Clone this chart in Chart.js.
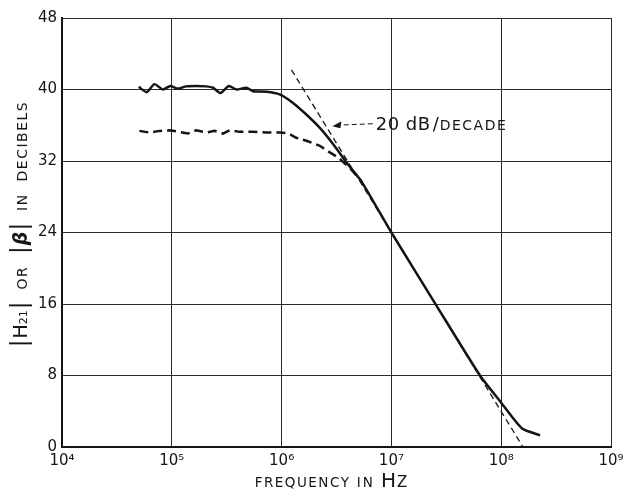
<!DOCTYPE html>
<html>
<head>
<meta charset="utf-8">
<script src="https://cdn.jsdelivr.net/npm/chart.js@4.4.1/dist/chart.umd.min.js"></script>
<style>
  html, body { margin: 0; padding: 0; background: #fff; }
  #wrap { width: 625px; height: 491px; }
</style>
</head>
<body>
<div id="wrap"><canvas id="chart" width="625" height="491"></canvas></div>
<script>
// ---------------- data ----------------
// |H21| measured (solid line)
const h21Freq = [5.0e4, 5.9e4, 6.95e4, 8.3e4, 9.7e4, 1.13e5, 1.35e5, 1.67e5, 2.06e5, 2.37e5,
                 2.78e5, 3.31e5, 3.87e5, 4.78e5, 5.48e5, 7.26e5, 9.6e5, 1.27e6, 1.68e6, 2.23e6,
                 2.94e6, 3.98e6, 5.35e6, 1.0e7, 2.58e7, 6.41e7, 9.8e7, 1.54e8, 2.26e8];
const h21Db   = [40.3, 39.7, 40.6, 40.0, 40.4, 40.1, 40.35, 40.4, 40.35, 40.2,
                 39.6, 40.4, 40.0, 40.2, 39.8, 39.75, 39.45, 38.5, 37.2, 35.7,
                 33.9, 31.7, 29.7, 24.0, 15.8, 8.0, 5.1, 2.1, 1.3];

// |beta| measured (heavy dashed line)
const betaFreq = [5.07e4, 6.27e4, 7.73e4, 9.53e4, 1.17e5, 1.4e5, 1.67e5, 2.06e5, 2.45e5, 2.92e5,
                  3.36e5, 4.15e5, 5.48e5, 7.26e5, 9.6e5, 1.14e6, 1.36e6, 1.68e6, 2.23e6, 2.75e6,
                  3.27e6, 4.2e6, 5.35e6];
const betaDb   = [35.37, 35.18, 35.37, 35.44, 35.26, 35.07, 35.44, 35.18, 35.37, 35.07,
                  35.44, 35.26, 35.26, 35.18, 35.18, 35.1, 34.6, 34.26, 33.7, 32.96,
                  32.4, 31.2, 29.7];

// 20 dB/decade asymptote (thin dashed line)
const asymFreq = [1.23e6, 1.58e8];
const asymDb   = [42.2, 0];

// axis ticks
const xTicks = [1e4, 1e5, 1e6, 1e7, 1e8, 1e9];
const xTickExp = ['⁴', '⁵', '⁶', '⁷', '⁸', '⁹'];
const yTicks = [0, 8, 16, 24, 32, 40, 48];

// ---------------- helpers ----------------
function pts(xs, ys) {
  return xs.map((x, i) => ({ x: x, y: ys[i] }));
}

const INK = '#151515';
const FONT = '"DejaVu Sans", sans-serif';

// draws a row of text pieces with different fonts, starting at x
function drawRuns(ctx, runs, x, y) {
  runs.forEach(r => {
    ctx.font = r.font;
    ctx.letterSpacing = (r.ls || 0) + 'px';
    ctx.fillText(r.text, x, y + (r.dy || 0));
    x += ctx.measureText(r.text).width + (r.gap || 0);
  });
  ctx.letterSpacing = '0px';
}
function runsWidth(ctx, runs) {
  let w = 0;
  runs.forEach(r => {
    ctx.font = r.font;
    ctx.letterSpacing = (r.ls || 0) + 'px';
    w += ctx.measureText(r.text).width + (r.gap || 0);
  });
  ctx.letterSpacing = '0px';
  return w;
}

// titles + annotation drawn on top
const labelsPlugin = {
  id: 'labels',
  afterDraw(chart) {
    const ctx = chart.ctx;
    const xs = chart.scales.x, ys = chart.scales.y;
    const area = chart.chartArea;
    ctx.save();
    ctx.fillStyle = INK;
    ctx.strokeStyle = INK;
    ctx.textBaseline = 'alphabetic';
    ctx.textAlign = 'left';

    // x title
    const xRuns = [
      { text: 'FREQUENCY', font: '13.5px ' + FONT, ls: 1.5 },
      { text: ' IN ', font: '13.5px ' + FONT, ls: 2 },
      { text: 'H', font: '20px ' + FONT, gap: 1 },
      { text: 'Z', font: '15px ' + FONT }
    ];
    const xw = runsWidth(ctx, xRuns);
    drawRuns(ctx, xRuns, 331 - xw / 2, 487);

    // y title (rotated)
    const yRuns = [
      { text: '|', font: '23px ' + FONT, gap: 1 },
      { text: 'H', font: '19px ' + FONT },
      { text: '21', font: '11px ' + FONT, gap: 1 },
      { text: '|', font: '23px ' + FONT },
      { text: '  OR  ', font: '14px ' + FONT, ls: 1.5 },
      { text: '|', font: '23px ' + FONT, gap: 1 },
      { text: 'β', font: 'italic bold 19px ' + FONT, gap: 1 },
      { text: '|', font: '23px ' + FONT },
      { text: '  IN  ', font: '14px ' + FONT, ls: 1.5 },
      { text: 'DECIBELS', font: '14px ' + FONT, ls: 1.5 }
    ];
    const yw = runsWidth(ctx, yRuns);
    ctx.save();
    ctx.translate(27, 224);
    ctx.rotate(-Math.PI / 2);
    drawRuns(ctx, yRuns, -yw / 2, 0);
    ctx.restore();

    // "20 dB/DECADE" note with dashed arrow
    const tipX = xs.getPixelForValue(2.9e6), tipY = ys.getPixelForValue(35.9);
    const txtX = xs.getPixelForValue(7.2e6), txtY = ys.getPixelForValue(35.5);
    drawRuns(ctx, [
      { text: '20 dB', font: '18px ' + FONT, ls: 0.5, gap: 2 },
      { text: '/', font: '18px ' + FONT, gap: 1 },
      { text: 'DECADE', font: '14px ' + FONT, ls: 1.5 }
    ], txtX, txtY);

    ctx.lineWidth = 1;
    ctx.setLineDash([5, 3]);
    ctx.beginPath();
    ctx.moveTo(txtX - 3, txtY - 6);
    ctx.lineTo(tipX + 6, tipY - 1);
    ctx.stroke();
    ctx.setLineDash([]);
    ctx.beginPath();
    ctx.moveTo(tipX, tipY);
    ctx.lineTo(tipX + 9, tipY - 5);
    ctx.lineTo(tipX + 8, tipY + 2);
    ctx.closePath();
    ctx.fill();

    ctx.restore();
  }
};

// ---------------- chart ----------------
const ctx = document.getElementById('chart').getContext('2d');

new Chart(ctx, {
  type: 'line',
  data: {
    datasets: [
      {
        label: '20 dB/decade',
        data: pts(asymFreq, asymDb),
        borderColor: INK,
        borderWidth: 1.3,
        borderDash: [6, 4],
        pointRadius: 0,
        tension: 0
      },
      {
        label: '|beta|',
        data: pts(betaFreq, betaDb),
        borderColor: INK,
        borderWidth: 2.5,
        borderDash: [9, 5],
        pointRadius: 0,
        tension: 0
      },
      {
        label: '|H21|',
        data: pts(h21Freq, h21Db),
        borderColor: INK,
        borderWidth: 2.5,
        pointRadius: 0,
        tension: 0.2
      }
    ]
  },
  options: {
    responsive: false,
    animation: false,
    devicePixelRatio: 1,
    layout: { padding: { top: 18, right: 14, left: 0, bottom: 0 } },
    plugins: {
      legend: { display: false },
      tooltip: { enabled: false }
    },
    scales: {
      x: {
        type: 'logarithmic',
        min: 1e4,
        max: 1e9,
        afterBuildTicks: s => { s.ticks = xTicks.map(v => ({ value: v })); },
        afterFit: s => { s.height = 44; s.paddingLeft = 0; s.paddingRight = 0; },
        ticks: {
          autoSkip: false,
          maxRotation: 0,
          padding: 5,
          color: INK,
          font: { family: FONT, size: 15 },
          callback: (v) => {
            const i = xTicks.indexOf(v);
            return i >= 0 ? '10' + xTickExp[i] : '';
          }
        },
        grid: { color: '#2a2a2a', lineWidth: 1, drawTicks: false },
        border: { color: INK, width: 2 }
      },
      y: {
        type: 'linear',
        min: 0,
        max: 48,
        afterBuildTicks: s => { s.ticks = yTicks.map(v => ({ value: v })); },
        afterFit: s => { s.width = 62; s.paddingTop = 0; s.paddingBottom = 0; },
        ticks: {
          padding: 5,
          color: INK,
          font: { family: FONT, size: 15 }
        },
        grid: { color: '#2a2a2a', lineWidth: 1, drawTicks: false },
        border: { color: INK, width: 2 }
      }
    }
  },
  plugins: [labelsPlugin]
});
</script>
</body>
</html>
